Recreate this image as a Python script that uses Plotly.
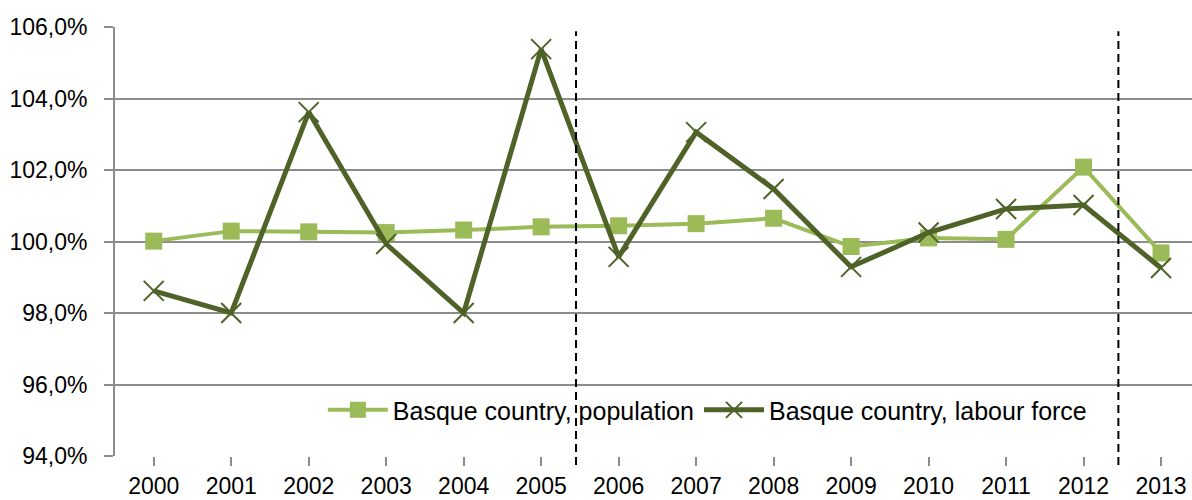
import plotly.graph_objects as go

years = ["2000", "2001", "2002", "2003", "2004", "2005", "2006",
         "2007", "2008", "2009", "2010", "2011", "2012", "2013"]
population = [100.01, 100.29, 100.27, 100.25, 100.32, 100.41, 100.44,
              100.50, 100.65, 99.86, 100.10, 100.06, 102.08, 99.68]
labour_force = [98.62, 98.00, 103.62, 99.93, 98.00, 105.38, 99.57,
                103.06, 101.47, 99.29, 100.25, 100.91, 101.02, 99.26]
y_ticks = [94, 96, 98, 100, 102, 104, 106]
y_tick_labels = ["94,0%", "96,0%", "98,0%", "100,0%", "102,0%", "104,0%", "106,0%"]
break_positions = [5.45, 12.45]

pop_color = "#9BBB59"
lab_color = "#4F6228"
grid_color = "#8C8C8C"
font_family = "Liberation Sans, Arial, sans-serif"

fig = go.Figure()
fig.add_trace(go.Scatter(
    x=list(range(len(years))), y=population, name="Basque country, population",
    mode="lines+markers",
    line=dict(color=pop_color, width=4),
    marker=dict(symbol="square", size=17, color=pop_color),
))
fig.add_trace(go.Scatter(
    x=list(range(len(years))), y=labour_force, name="Basque country, labour force",
    mode="lines+markers",
    line=dict(color=lab_color, width=5),
    marker=dict(symbol="x-thin-open", size=20, line=dict(color=lab_color, width=2)),
))

for bx in break_positions:
    fig.add_shape(type="line", xref="x", yref="paper", x0=bx, x1=bx,
                  y0=-0.021, y1=0.99, layer="above",
                  line=dict(color="black", width=2, dash="8px,5px"))

fig.update_layout(
    width=1192, height=500,
    margin=dict(l=115, r=0, t=27, b=44),
    paper_bgcolor="white", plot_bgcolor="white",
    font=dict(family=font_family, size=23, color="black"),
    showlegend=True,
    legend=dict(orientation="h", x=0.193, y=0.107, xanchor="left", yanchor="middle",
                font=dict(size=25), bgcolor="rgba(0,0,0,0)", itemwidth=60,
                tracegroupgap=0),
    xaxis=dict(
        tickmode="array", tickvals=list(range(len(years))), ticktext=years,
        range=[-0.5, 13.4], showgrid=False, zeroline=False,
        showline=False, ticks="outside", tickson="boundaries",
        ticklen=9, tickwidth=2, tickcolor=grid_color,
        tickfont=dict(size=23),
    ),
    yaxis=dict(
        range=[94, 106], tickmode="array", tickvals=y_ticks, ticktext=y_tick_labels,
        showgrid=True, gridcolor=grid_color, gridwidth=2, zeroline=False,
        showline=True, linecolor=grid_color, linewidth=2,
        ticks="outside", ticklen=9, tickwidth=2, tickcolor=grid_color,
        ticklabelstandoff=12,
        tickfont=dict(size=23),
    ),
)

fig.write_html("out.html", config={"displayModeBar": False},
               post_script="document.body.style.margin='0';document.body.style.overflow='hidden';")
